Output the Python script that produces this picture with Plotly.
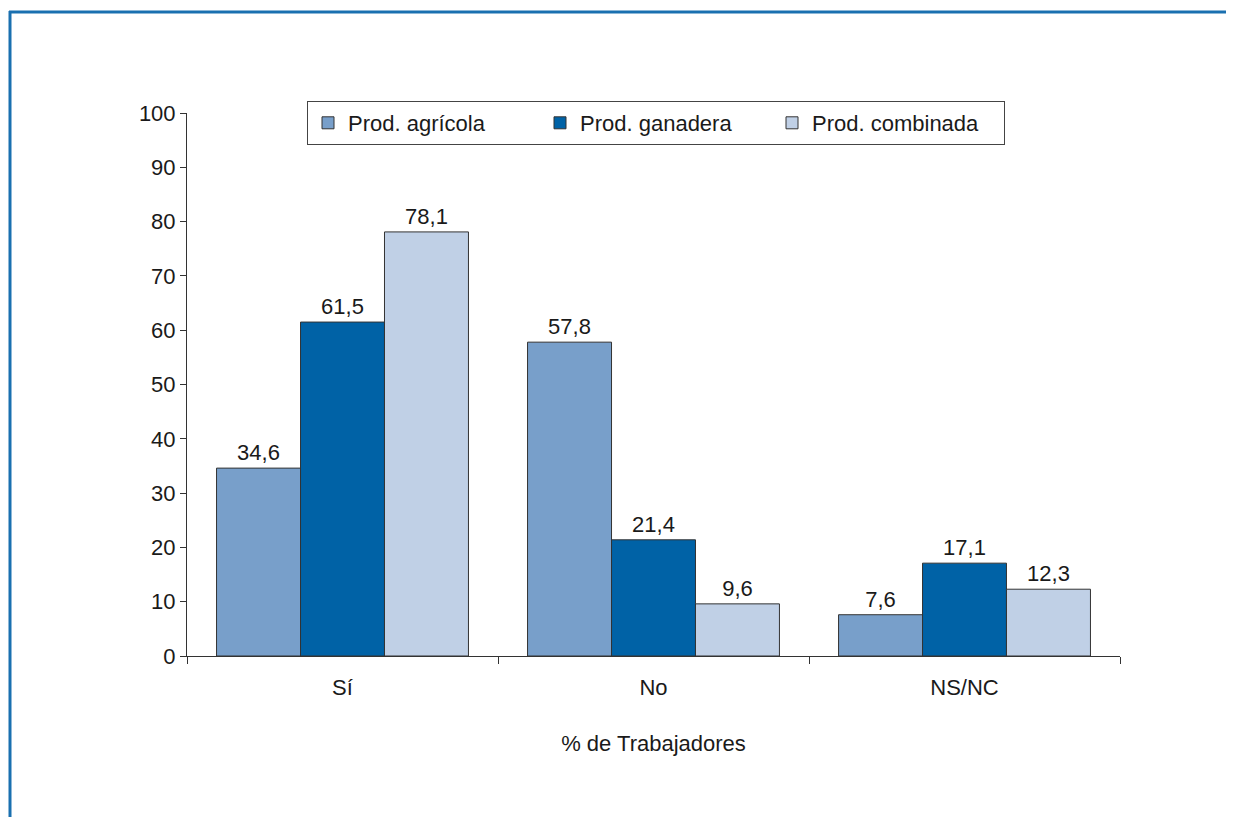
import plotly.graph_objects as go

categories = ["Sí", "No", "NS/NC"]
series_names = ["Prod. agrícola", "Prod. ganadera", "Prod. combinada"]
agricola = [34.6, 57.8, 7.6]
ganadera = [61.5, 21.4, 17.1]
combinada = [78.1, 9.6, 12.3]
y_ticks = list(range(0, 101, 10))

colors = ["#789fca", "#0062a6", "#c0d0e6"]
font_family = "Liberation Sans, Arial, sans-serif"
FS = 22

fig = go.Figure()
for name, vals, col in zip(series_names, [agricola, ganadera, combinada], colors):
    fig.add_trace(go.Bar(
        x=categories, y=vals, name=name,
        marker=dict(color=col, line=dict(color="#333333", width=1)),
        texttemplate="%{y:.1f}", textposition="outside",
        textfont=dict(size=FS, color="#1a1a1a", family=font_family),
        cliponaxis=False,
    ))

# page is drawn with an 8px body offset
OFF = 8
W, H = 1234 - OFF, 817 - OFF
L, T = 187 - OFF, 113 - OFF
R = W - (1120 - OFF)
B = H - (656 - OFF)
pw = W - L - R
ph = H - T - B

def px_x(sx):
    return (sx - OFF - L) / pw

def px_y(sy):
    return (H - B - (sy - OFF)) / ph

fig.update_layout(
    width=W, height=H,
    margin=dict(l=L, r=R, t=T, b=B, pad=0),
    paper_bgcolor="white", plot_bgcolor="white",
    separators=",.",
    barmode="group", bargap=0.19, bargroupgap=0,
    font=dict(family=font_family, size=FS, color="#1a1a1a"),
    showlegend=True,
    legend=dict(
        orientation="h", x=px_x(307), y=px_y(101),
        xanchor="left", yanchor="top",
        bordercolor="#444444", borderwidth=1,
        entrywidth=187, entrywidthmode="pixels",
        font=dict(size=FS, family=font_family, color="#1a1a1a"),
        traceorder="normal",
    ),
    xaxis=dict(
        showline=True, linecolor="#333333", linewidth=1,
        ticks="outside", tickson="boundaries", ticklen=7, tickcolor="#333333",
        ticklabelstandoff=12,
        title=dict(text="% de Trabajadores", standoff=36, font=dict(size=FS)),
        tickfont=dict(size=FS),
        showgrid=False,
    ),
    yaxis=dict(
        range=[0, 100], tickvals=y_ticks,
        showline=True, linecolor="#333333", linewidth=1,
        ticks="outside", ticklen=6, tickcolor="#333333",
        showgrid=False, zeroline=False,
        tickfont=dict(size=FS),
    ),
    shapes=[
        dict(type="line", xref="paper", yref="paper",
             x0=px_x(9), x1=px_x(1240),
             y0=px_y(12), y1=px_y(12),
             line=dict(color="#1a70b0", width=3)),
        dict(type="line", xref="paper", yref="paper",
             x0=px_x(10), x1=px_x(10),
             y0=px_y(11), y1=px_y(830),
             line=dict(color="#1a70b0", width=3)),
    ],
)

fig.write_html("out.html")
